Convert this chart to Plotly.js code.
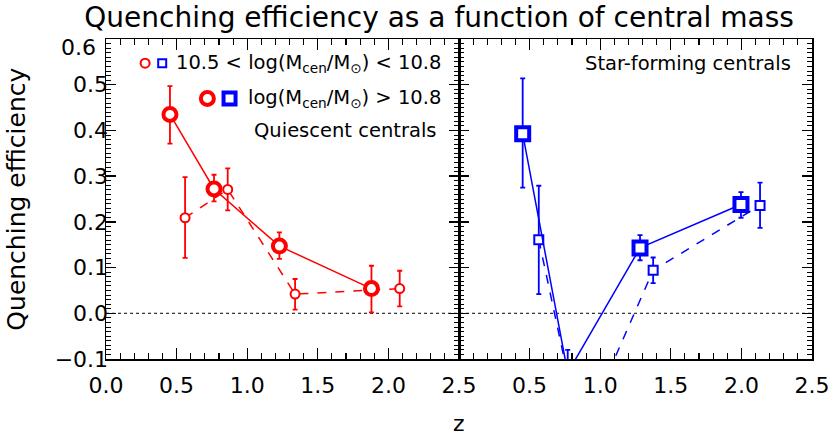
<!DOCTYPE html>
<html>
<head>
<meta charset="utf-8">
<script src="https://cdn.plot.ly/plotly-3.0.1.min.js"></script>
<style>
  html, body { margin: 0; padding: 0; background: #fff; }
  #chart { width: 830px; height: 435px; }
</style>
</head>
<body>
<div id="chart"></div>
<script>
// Quiescent centrals (red), high mass: log(Mcen) > 10.8
const qHighZ = [0.453, 0.765, 1.228, 1.880];
const qHighQE = [0.435, 0.272, 0.147, 0.054];
const qHighErrUp = [0.062, 0.031, 0.030, 0.050];
const qHighErrDn = [0.064, 0.027, 0.028, 0.052];

// Quiescent centrals, low mass: 10.5 < log(Mcen) < 10.8
const qLowZ = [0.560, 0.862, 1.339, 2.080];
const qLowQE = [0.209, 0.271, 0.042, 0.054];
const qLowErrUp = [0.089, 0.046, 0.033, 0.039];
const qLowErrDn = [0.088, 0.046, 0.034, 0.039];

// Star-forming centrals (blue), high mass
const sfHighZ = [0.451, 0.770, 1.282, 1.997];
const sfHighQE = [0.393, -0.130, 0.143, 0.238];
const sfHighErrUp = [0.121, 0.050, 0.028, 0.027];
const sfHighErrDn = [0.118, 0.050, 0.027, 0.029];

// Star-forming centrals, low mass
const sfLowZ = [0.565, 0.862, 1.375, 2.132];
const sfLowQE = [0.161, -0.268, 0.094, 0.236];
const sfLowErrUp = [0.118, 0.050, 0.028, 0.050];
const sfLowErrDn = [0.119, 0.050, 0.028, 0.049];

const zTicksLeft = [0, 0.5, 1.0, 1.5, 2.0, 2.5];
const zTicksRight = [0.5, 1.0, 1.5, 2.0, 2.5];
const qeTicks = [-0.1, 0, 0.1, 0.2, 0.3, 0.4, 0.5, 0.6];

const RED = '#ff0000';
const BLUE = '#0000ff';
const FONT = 'DejaVu Sans, sans-serif';

function series(x, y, up, dn, color, symbol, big, xa, ya) {
    return {
        x: x, y: y, xaxis: xa, yaxis: ya,
        type: 'scatter', mode: 'lines+markers',
        line: { color: color, width: 1.5, dash: big ? 'solid' : 'dash' },
        marker: {
            symbol: symbol, size: big ? 13 : 9, color: '#fff',
            line: { color: color, width: big ? 4 : 2 }
        },
        error_y: {
            type: 'data', symmetric: false, array: up, arrayminus: dn,
            color: color, thickness: 1.8, width: 2.5
        },
        showlegend: false, hoverinfo: 'skip'
    };
}

const traces = [
    series(qLowZ, qLowQE, qLowErrUp, qLowErrDn, RED, 'circle', false, 'x', 'y'),
    series(qHighZ, qHighQE, qHighErrUp, qHighErrDn, RED, 'circle', true, 'x', 'y'),
    series(sfLowZ, sfLowQE, sfLowErrUp, sfLowErrDn, BLUE, 'square', false, 'x2', 'y2'),
    series(sfHighZ, sfHighQE, sfHighErrUp, sfHighErrDn, BLUE, 'square', true, 'x2', 'y2')
];

const tickFont = { family: FONT, size: 22, color: '#000' };

function xAxis(domain, tickvals) {
    return {
        domain: domain, range: [0, 2.5],
        tickmode: 'array', tickvals: tickvals, ticktext: tickvals.map(v => v.toFixed(1)),
        ticks: 'inside', ticklen: 11, tickwidth: 1.3, tickcolor: '#000',
        minor: { dtick: 0.1, ticks: 'inside', ticklen: 6, tickwidth: 1.1, tickcolor: '#000' },
        showline: true, linecolor: '#000', linewidth: 1.5, mirror: 'ticks',
        showgrid: false, zeroline: false, tickfont: tickFont, ticklabelstandoff: 6
    };
}

// the top label (0.6) is drawn a little lower, as in the original, via an annotation
const qeLabels = qeTicks.map(v => v === 0.6 ? '' : v.toFixed(1).replace('-', '\u2212'));

function yAxis(anchor, showLabels) {
    return {
        anchor: anchor, range: [-0.1, 0.6],
        tickmode: 'array', tickvals: qeTicks, ticktext: qeLabels,
        showticklabels: showLabels,
        ticks: 'inside', ticklen: 10, tickwidth: 1.3, tickcolor: '#000',
        minor: { dtick: 0.01, ticks: 'inside', ticklen: 5, tickwidth: 1, tickcolor: '#000' },
        showline: true, linecolor: '#000', linewidth: 1.5, mirror: 'ticks',
        showgrid: false, zeroline: false, tickfont: tickFont, ticklabelstandoff: -8
    };
}

const annFont = { family: FONT, size: 19.5, color: '#000' };

// legend symbols (decoration, pixel-sized)
function sym(type, color, cx, cy, size, width) {
    return {
        type: type === 'circle' ? 'circle' : 'rect',
        xref: 'x', yref: 'y', xsizemode: 'pixel', ysizemode: 'pixel',
        xanchor: cx, yanchor: cy,
        x0: -size / 2, x1: size / 2, y0: -size / 2, y1: size / 2,
        line: { color: color, width: width }, fillcolor: '#fff'
    };
}

const layout = {
    width: 830, height: 435,
    margin: { l: 106, r: 18, t: 39, b: 76 },
    paper_bgcolor: '#fff', plot_bgcolor: '#fff',
    title: {
        text: 'Quenching efficiency as a function of central mass',
        font: { family: FONT, size: 28, color: '#000' },
        xref: 'container', x: 0.529, yref: 'container', y: 0.961, yanchor: 'middle'
    },
    xaxis: xAxis([0, 0.5], zTicksLeft),
    xaxis2: xAxis([0.5, 1], zTicksRight),
    yaxis: yAxis('x', true),
    yaxis2: yAxis('x2', false),
    shapes: [
        { type: 'line', xref: 'paper', x0: 0, x1: 1, yref: 'y', y0: 0, y1: 0,
          line: { color: '#000', width: 1, dash: 'dot' }, layer: 'below' },
        sym('circle', RED, 0.277, 0.547, 9, 2),
        sym('rect', BLUE, 0.398, 0.547, 8, 2),
        sym('circle', RED, 0.718, 0.470, 13, 4),
        sym('rect', BLUE, 0.875, 0.470, 12, 4)
    ],
    annotations: [
        { text: '10.5 < log(M<sub>cen</sub>/M<sub>\u2299</sub>) < 10.8', xref: 'x', yref: 'y',
          x: 2.387, y: 0.547, xanchor: 'right', yanchor: 'middle', showarrow: false, font: annFont },
        { text: 'log(M<sub>cen</sub>/M<sub>\u2299</sub>) > 10.8', xref: 'x', yref: 'y',
          x: 2.387, y: 0.470, xanchor: 'right', yanchor: 'middle', showarrow: false, font: annFont },
        { text: 'Quiescent centrals', xref: 'x', yref: 'y',
          x: 2.351, y: 0.400, xanchor: 'right', yanchor: 'middle', showarrow: false, font: annFont },
        { text: 'Star-forming centrals', xref: 'x2', yref: 'y2',
          x: 2.365, y: 0.547, xanchor: 'right', yanchor: 'middle', showarrow: false, font: annFont },
        { text: '0.6', xref: 'paper', yref: 'paper', x: -0.011, y: 0.975, xanchor: 'right', yanchor: 'middle',
          showarrow: false, font: tickFont },
        { text: 'Quenching efficiency', xref: 'paper', yref: 'paper', x: -0.128, y: 0.5,
          xanchor: 'center', yanchor: 'middle', textangle: -90, showarrow: false,
          font: { family: FONT, size: 25, color: '#000' } },
        { text: 'z', xref: 'paper', yref: 'paper', x: 0.5, y: -0.2, yanchor: 'middle',
          showarrow: false, font: { family: FONT, size: 22, color: '#000' } }
    ]
};

Plotly.newPlot('chart', traces, layout, { displayModeBar: false, staticPlot: true });
</script>
</body>
</html>
